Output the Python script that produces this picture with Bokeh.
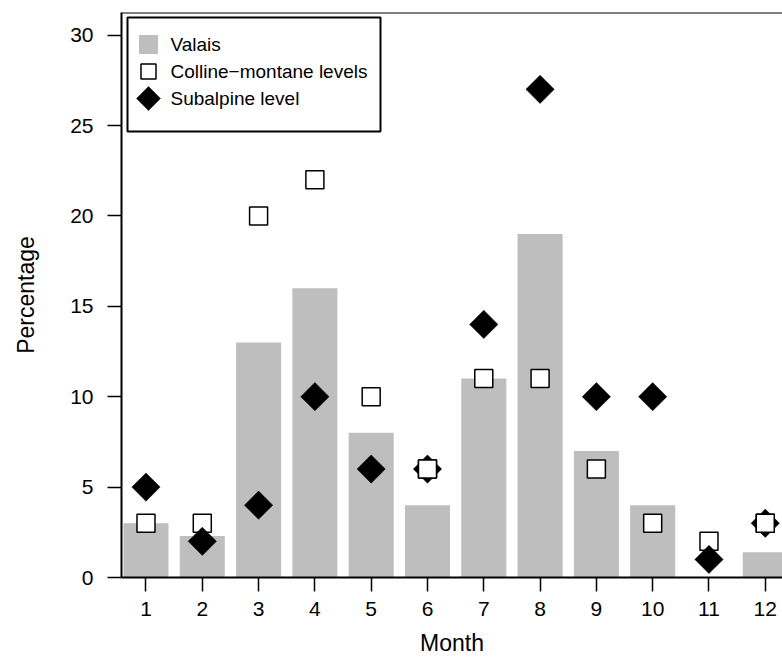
import numpy as np
from bokeh.plotting import figure
from bokeh.models import (ColumnDataSource, Range1d, FixedTicker, Span,
                          BoxAnnotation, Label)
from bokeh.embed import file_html
from bokeh.resources import INLINE

# ---------------- data ----------------
months = [1, 2, 3, 4, 5, 6, 7, 8, 9, 10, 11, 12]
valais = [3, 2.3, 13, 16, 8, 4, 11, 19, 7, 4, 0, 1.4]
colline_montane = [3, 3, 20, 22, 10, 6, 11, 11, 6, 3, 2, 3]
subalpine = [5, 2, 4, 10, 6, 6, 14, 27, 10, 10, 1, 3]
y_ticks = [0, 5, 10, 15, 20, 25, 30]
series_names = ["Valais", "Colline\u2212montane levels", "Subalpine level"]

FONT = "Liberation Sans"
W, H = 782, 659
FL, FT, FB = 121, 12, 577          # frame left / top / bottom in pixels

src = ColumnDataSource(dict(month=months, valais=valais,
                            colline=colline_montane, subalpine=subalpine))
same = [i for i in range(len(months)) if colline_montane[i] == subalpine[i]]
src_same = ColumnDataSource(dict(month=[months[i] for i in same],
                                 colline=[colline_montane[i] for i in same]))

p = figure(width=W, height=H, output_backend="svg", toolbar_location=None,
           x_range=Range1d(0.565, 12.306), y_range=Range1d(0, 31.25),
           min_border_left=FL, min_border_right=0, min_border_top=FT,
           min_border_bottom=H - FB)
# pixel ranges for the legend block
p.extra_x_ranges = {"px": Range1d(FL, W)}
p.extra_y_ranges = {"px": Range1d(FB, FT)}
p.outline_line_color = None
p.xgrid.visible = False
p.ygrid.visible = False

p.vbar(x="month", top="valais", width=0.8, bottom=0, source=src,
       fill_color="#bebebe", line_color=None)
p.scatter(x="month", y="colline", source=src, marker="square", size=18,
          fill_color="white", line_color="black", line_width=1.5)
p.scatter(x="month", y="subalpine", source=src, marker="square", size=20,
          angle=np.pi / 4, fill_color="black", line_color="black",
          line_width=0.5)
p.scatter(x="month", y="colline", source=src_same, marker="square", size=18,
          fill_color="white", line_color="black", line_width=1.5)

# axes
xa = p.xaxis[0]
xa.ticker = FixedTicker(ticks=months)
xa.axis_label = "Month"
ya = p.yaxis[0]
ya.ticker = FixedTicker(ticks=y_ticks)
ya.axis_label = "Percentage"
for ax in (xa, ya):
    ax.axis_line_width = 2
    ax.axis_line_color = "black"
    ax.major_tick_line_width = 1.5
    ax.major_tick_line_color = "black"
    ax.major_tick_out = 14
    ax.major_tick_in = 0
    ax.minor_tick_line_color = None
    ax.major_label_text_font = FONT
    ax.major_label_text_font_size = "21px"
    ax.major_label_text_color = "black"
    ax.axis_label_text_font = FONT
    ax.axis_label_text_font_size = "23px"
    ax.axis_label_text_font_style = "normal"
    ax.axis_label_text_color = "black"
xa.major_label_standoff = 10
xa.axis_label_standoff = 11
ya.major_label_standoff = 14
ya.axis_label_standoff = 28
ya.major_label_orientation = "horizontal"

p.add_layout(Span(location=31.25, dimension="width", line_color="black",
                  line_width=2))

# legend block (R style), positioned in pixel coordinates
LEG_L, LEG_R, LEG_T, LEG_B = 127, 380, 17, 131
rows_y = [44, 71, 98]
sym_x = 148
txt_x = 170
p.add_layout(BoxAnnotation(left=LEG_L, right=LEG_R, top=LEG_T, bottom=LEG_B,
                           x_range_name="px", y_range_name="px",
                           fill_color="white", fill_alpha=1.0,
                           line_color="black", line_alpha=1.0, line_width=2,
                           level="underlay"))
p.scatter(x=[sym_x], y=[rows_y[0]], x_range_name="px", y_range_name="px",
          marker="square", size=19, fill_color="#bebebe", line_color=None)
p.scatter(x=[sym_x], y=[rows_y[1]], x_range_name="px", y_range_name="px",
          marker="square", size=15, fill_color="white", line_color="black",
          line_width=1.5)
p.scatter(x=[sym_x], y=[rows_y[2]], x_range_name="px", y_range_name="px",
          marker="square", size=17, angle=np.pi / 4, fill_color="black",
          line_color="black", line_width=0.5)
for name, yy in zip(series_names, rows_y):
    p.add_layout(Label(x=txt_x, y=yy, text=name, x_range_name="px",
                       y_range_name="px", text_font=FONT,
                       text_font_size="19px", text_baseline="middle",
                       text_align="left", text_color="black"))

open("out.html", "w").write(file_html(p, INLINE))
